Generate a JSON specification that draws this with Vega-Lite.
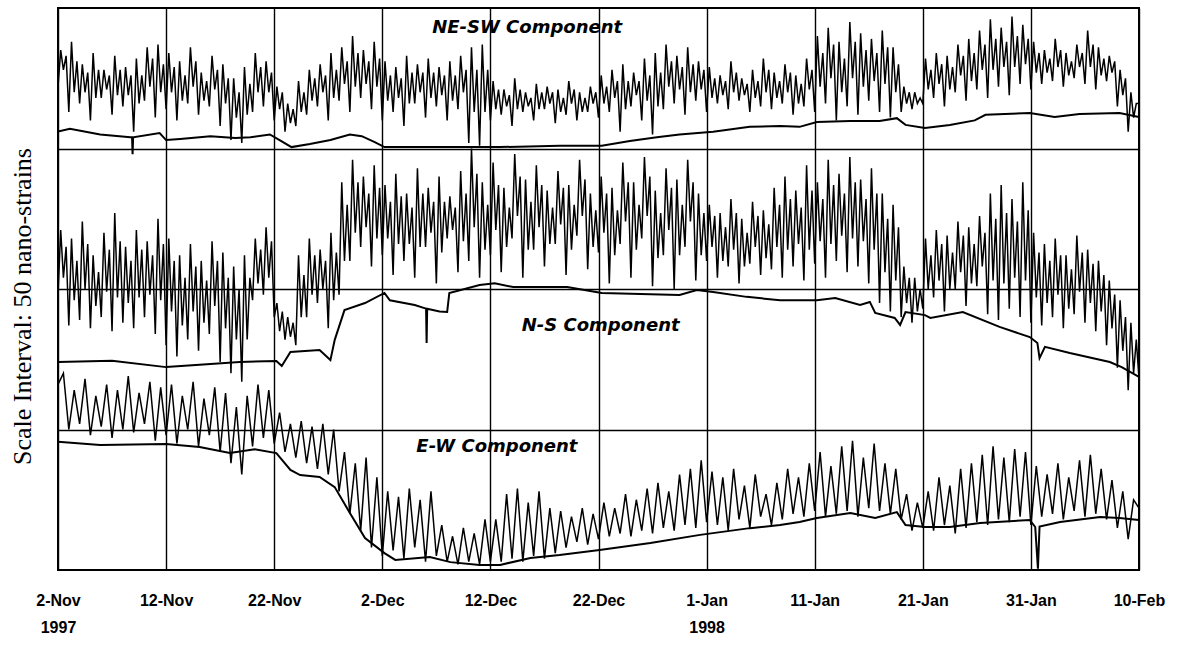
{
"$schema": "https://vega.github.io/schema/vega-lite/v6.json",
"width": 1081, "height": 562,
"autosize": {"type": "none"},
"padding": {"left": 58, "top": 8, "right": 39, "bottom": 75},
"background": "white",
"config": {"view": {"stroke": "#000", "strokeWidth": 2}},
"datasets": {
"q": [
{"d":0,"a":172,"b":98},{"d":0.25,"a":185,"b":121},{"d":0.5,"a":178,"b":104},{"d":0.75,"a":183,"b":115},
{"d":1,"a":163,"b":87},{"d":1.25,"a":188,"b":118},{"d":1.5,"a":170,"b":96},{"d":1.75,"a":181,"b":110},
{"d":2,"a":166,"b":89},{"d":2.25,"a":180,"b":124},{"d":2.5,"a":170,"b":100},{"d":2.75,"a":177,"b":116},
{"d":3,"a":160,"b":86},{"d":3.25,"a":184,"b":112},{"d":3.5,"a":168,"b":94},{"d":3.75,"a":178,"b":106},
{"d":4,"a":168,"b":90},{"d":4.25,"a":178,"b":120},{"d":4.5,"a":171,"b":99},{"d":4.75,"a":176,"b":114},
{"d":5,"a":162,"b":85},{"d":5.25,"a":183,"b":127},{"d":5.5,"a":169,"b":97},{"d":5.75,"a":178,"b":117},
{"d":6,"a":165,"b":88},{"d":6.25,"a":179,"b":115},{"d":6.5,"a":169,"b":95},{"d":6.75,"a":176,"b":110},
{"d":7,"a":156,"b":86},{"d":7.25,"a":182,"b":121},{"d":7.5,"a":166,"b":97},{"d":7.75,"a":176,"b":114},
{"d":8,"a":167,"b":90},{"d":8.25,"a":186,"b":117},{"d":8.5,"a":172,"b":98},{"d":8.75,"a":182,"b":112},
{"d":9,"a":161,"b":84},{"d":9.25,"a":187,"b":125},{"d":9.5,"a":170,"b":96},{"d":9.75,"a":180,"b":116},
{"d":10,"a":164,"b":80},{"d":10.25,"a":184,"b":118},{"d":10.5,"a":170,"b":92},{"d":10.75,"a":179,"b":110},
{"d":11,"a":160,"b":76},{"d":11.25,"a":181,"b":112},{"d":11.5,"a":167,"b":87},{"d":11.75,"a":176,"b":104},
{"d":12,"a":166,"b":82},{"d":12.25,"a":186,"b":116},{"d":12.5,"a":172,"b":92},{"d":12.75,"a":181,"b":108},
{"d":13,"a":162,"b":78},{"d":13.25,"a":177,"b":110},{"d":13.5,"a":167,"b":88},{"d":13.75,"a":174,"b":103},
{"d":14,"a":165,"b":84},{"d":14.25,"a":183,"b":117},{"d":14.5,"a":171,"b":94},{"d":14.75,"a":178,"b":110},
{"d":15,"a":158,"b":74},{"d":15.25,"a":180,"b":113},{"d":15.5,"a":166,"b":86},{"d":15.75,"a":175,"b":104},
{"d":16,"a":153,"b":70},{"d":16.25,"a":175,"b":108},{"d":16.5,"a":161,"b":82},{"d":16.75,"a":170,"b":100},
{"d":17,"a":152,"b":67},{"d":17.25,"a":179,"b":112},{"d":17.5,"a":162,"b":82},{"d":17.75,"a":173,"b":104},
{"d":18,"a":163,"b":96},{"d":18.25,"a":184,"b":118},{"d":18.5,"a":170,"b":102},{"d":18.75,"a":179,"b":114},
{"d":19,"a":165,"b":98},{"d":19.25,"a":181,"b":122},{"d":19.5,"a":170,"b":104},{"d":19.75,"a":177,"b":117},
{"d":20,"a":160,"b":90},{"d":20.25,"a":172,"b":95},{"d":20.5,"a":164,"b":85},{"d":20.75,"a":170,"b":92},
{"d":21,"a":156,"b":82},{"d":21.25,"a":166,"b":90},{"d":21.5,"a":159,"b":83},{"d":21.75,"a":164,"b":88},
{"d":22,"a":158,"b":80},{"d":22.25,"a":174,"b":112},{"d":22.5,"a":163,"b":90},{"d":22.75,"a":170,"b":105},
{"d":23,"a":162,"b":90},{"d":23.25,"a":178,"b":118},{"d":23.5,"a":167,"b":98},{"d":23.75,"a":175,"b":112},
{"d":24,"a":165,"b":95},{"d":24.25,"a":180,"b":114},{"d":24.5,"a":170,"b":100},{"d":24.75,"a":176,"b":110},
{"d":25,"a":160,"b":86},{"d":25.25,"a":184,"b":120},{"d":25.5,"a":168,"b":96},{"d":25.75,"a":178,"b":113},
{"d":26,"a":167,"b":98},{"d":26.25,"a":186,"b":138},{"d":26.5,"a":173,"b":110},{"d":26.75,"a":181,"b":130},
{"d":27,"a":163,"b":110},{"d":27.25,"a":190,"b":146},{"d":27.5,"a":172,"b":120},{"d":27.75,"a":184,"b":138},
{"d":28,"a":168,"b":115},{"d":28.25,"a":185,"b":140},{"d":28.5,"a":173,"b":122},{"d":28.75,"a":181,"b":134},
{"d":29,"a":164,"b":108},{"d":29.25,"a":188,"b":144},{"d":29.5,"a":172,"b":118},{"d":29.75,"a":182,"b":136},
{"d":30,"a":160,"b":112},{"d":30.25,"a":181,"b":137},{"d":30.5,"a":167,"b":118},{"d":30.75,"a":176,"b":131},
{"d":31,"a":163,"b":105},{"d":31.25,"a":179,"b":141},{"d":31.5,"a":168,"b":116},{"d":31.75,"a":175,"b":133},
{"d":32,"a":158,"b":110},{"d":32.25,"a":183,"b":134},{"d":32.5,"a":166,"b":116},{"d":32.75,"a":177,"b":129},
{"d":33,"a":166,"b":104},{"d":33.25,"a":180,"b":143},{"d":33.5,"a":170,"b":115},{"d":33.75,"a":177,"b":134},
{"d":34,"a":161,"b":115},{"d":34.25,"a":182,"b":136},{"d":34.5,"a":168,"b":120},{"d":34.75,"a":177,"b":131},
{"d":35,"a":165,"b":102},{"d":35.25,"a":179,"b":140},{"d":35.5,"a":169,"b":113},{"d":35.75,"a":176,"b":131},
{"d":36,"a":160,"b":118},{"d":36.25,"a":181,"b":133},{"d":36.5,"a":167,"b":121},{"d":36.75,"a":176,"b":129},
{"d":37,"a":164,"b":106},{"d":37.25,"a":183,"b":142},{"d":37.5,"a":170,"b":117},{"d":37.75,"a":178,"b":134},
{"d":38,"a":152,"b":110},{"d":38.25,"a":186,"b":150},{"d":38.5,"a":163,"b":122},{"d":38.75,"a":178,"b":141},
{"d":39,"a":151,"b":104},{"d":39.25,"a":187,"b":138},{"d":39.5,"a":163,"b":114},{"d":39.75,"a":178,"b":130},
{"d":40,"a":160,"b":112},{"d":40.25,"a":174,"b":145},{"d":40.5,"a":164,"b":121},{"d":40.75,"a":171,"b":137},
{"d":41,"a":162,"b":106},{"d":41.25,"a":171,"b":136},{"d":41.5,"a":165,"b":115},{"d":41.75,"a":169,"b":129},
{"d":42,"a":158,"b":118},{"d":42.25,"a":175,"b":148},{"d":42.5,"a":164,"b":126},{"d":42.75,"a":171,"b":140},
{"d":43,"a":163,"b":104},{"d":43.25,"a":170,"b":139},{"d":43.5,"a":165,"b":114},{"d":43.75,"a":168,"b":131},
{"d":44,"a":160,"b":114},{"d":44.25,"a":173,"b":144},{"d":44.5,"a":164,"b":122},{"d":44.75,"a":170,"b":137},
{"d":45,"a":164,"b":108},{"d":45.25,"a":172,"b":135},{"d":45.5,"a":166,"b":116},{"d":45.75,"a":170,"b":129},
{"d":46,"a":159,"b":116},{"d":46.25,"a":171,"b":142},{"d":46.5,"a":163,"b":123},{"d":46.75,"a":168,"b":136},
{"d":47,"a":162,"b":105},{"d":47.25,"a":174,"b":137},{"d":47.5,"a":166,"b":114},{"d":47.75,"a":171,"b":130},
{"d":48,"a":160,"b":119},{"d":48.25,"a":170,"b":146},{"d":48.5,"a":163,"b":126},{"d":48.75,"a":168,"b":139},
{"d":49,"a":163,"b":107},{"d":49.25,"a":172,"b":134},{"d":49.5,"a":166,"b":115},{"d":49.75,"a":170,"b":128},
{"d":50,"a":161,"b":113},{"d":50.25,"a":176,"b":140},{"d":50.5,"a":166,"b":120},{"d":50.75,"a":172,"b":134},
{"d":51,"a":163,"b":102},{"d":51.25,"a":178,"b":136},{"d":51.5,"a":168,"b":112},{"d":51.75,"a":174,"b":128},
{"d":52,"a":156,"b":116},{"d":52.25,"a":180,"b":145},{"d":52.5,"a":164,"b":124},{"d":52.75,"a":174,"b":138},
{"d":53,"a":165,"b":104},{"d":53.25,"a":177,"b":138},{"d":53.5,"a":169,"b":114},{"d":53.75,"a":174,"b":130},
{"d":54,"a":160,"b":118},{"d":54.25,"a":182,"b":147},{"d":54.5,"a":167,"b":126},{"d":54.75,"a":176,"b":140},
{"d":55,"a":155,"b":101},{"d":55.25,"a":184,"b":135},{"d":55.5,"a":165,"b":111},{"d":55.75,"a":177,"b":127},
{"d":56,"a":164,"b":112},{"d":56.25,"a":187,"b":143},{"d":56.5,"a":172,"b":121},{"d":56.75,"a":181,"b":136},
{"d":57,"a":166,"b":100},{"d":57.25,"a":183,"b":139},{"d":57.5,"a":171,"b":112},{"d":57.75,"a":179,"b":130},
{"d":58,"a":162,"b":115},{"d":58.25,"a":186,"b":146},{"d":58.5,"a":170,"b":124},{"d":58.75,"a":180,"b":138},
{"d":59,"a":167,"b":103},{"d":59.25,"a":181,"b":134},{"d":59.5,"a":171,"b":112},{"d":59.75,"a":178,"b":127},
{"d":60,"a":163,"b":110},{"d":60.25,"a":179,"b":130},{"d":60.5,"a":168,"b":115},{"d":60.75,"a":175,"b":126},
{"d":61,"a":166,"b":104},{"d":61.25,"a":176,"b":127},{"d":61.5,"a":169,"b":110},{"d":61.75,"a":174,"b":122},
{"d":62,"a":164,"b":108},{"d":62.25,"a":181,"b":132},{"d":62.5,"a":170,"b":114},{"d":62.75,"a":177,"b":127},
{"d":63,"a":167,"b":102},{"d":63.25,"a":175,"b":125},{"d":63.5,"a":169,"b":108},{"d":63.75,"a":173,"b":120},
{"d":64,"a":163,"b":109},{"d":64.25,"a":178,"b":131},{"d":64.5,"a":168,"b":115},{"d":64.75,"a":174,"b":126},
{"d":65,"a":165,"b":105},{"d":65.25,"a":182,"b":128},{"d":65.5,"a":170,"b":111},{"d":65.75,"a":178,"b":123},
{"d":66,"a":164,"b":107},{"d":66.25,"a":177,"b":136},{"d":66.5,"a":168,"b":115},{"d":66.75,"a":174,"b":130},
{"d":67,"a":166,"b":104},{"d":67.25,"a":180,"b":140},{"d":67.5,"a":170,"b":114},{"d":67.75,"a":177,"b":132},
{"d":68,"a":162,"b":108},{"d":68.25,"a":176,"b":135},{"d":68.5,"a":166,"b":116},{"d":68.75,"a":173,"b":129},
{"d":69,"a":165,"b":103},{"d":69.25,"a":182,"b":144},{"d":69.5,"a":171,"b":114},{"d":69.75,"a":178,"b":135},
{"d":70,"a":163,"b":109},{"d":70.25,"a":190,"b":138},{"d":70.5,"a":172,"b":117},{"d":70.75,"a":184,"b":132},
{"d":71,"a":166,"b":104},{"d":71.25,"a":193,"b":146},{"d":71.5,"a":175,"b":116},{"d":71.75,"a":187,"b":137},
{"d":72,"a":160,"b":110},{"d":72.25,"a":188,"b":141},{"d":72.5,"a":170,"b":119},{"d":72.75,"a":182,"b":134},
{"d":73,"a":165,"b":106},{"d":73.25,"a":195,"b":147},{"d":73.5,"a":175,"b":118},{"d":73.75,"a":188,"b":138},
{"d":74,"a":162,"b":108},{"d":74.25,"a":191,"b":139},{"d":74.5,"a":172,"b":117},{"d":74.75,"a":185,"b":132},
{"d":75,"a":167,"b":102},{"d":75.25,"a":189,"b":143},{"d":75.5,"a":174,"b":114},{"d":75.75,"a":184,"b":134},
{"d":76,"a":163,"b":95},{"d":76.25,"a":192,"b":134},{"d":76.5,"a":173,"b":106},{"d":76.75,"a":186,"b":125},
{"d":77,"a":161,"b":92},{"d":77.25,"a":186,"b":130},{"d":77.5,"a":170,"b":103},{"d":77.75,"a":180,"b":122},
{"d":78,"a":163,"b":90},{"d":78.25,"a":172,"b":108},{"d":78.5,"a":166,"b":95},{"d":78.75,"a":170,"b":104},
{"d":79,"a":164,"b":88},{"d":79.25,"a":170,"b":104},{"d":79.5,"a":166,"b":92},{"d":79.75,"a":168,"b":100},
{"d":80,"a":166,"b":93},{"d":80.25,"a":182,"b":118},{"d":80.5,"a":171,"b":100},{"d":80.75,"a":178,"b":112},
{"d":81,"a":168,"b":97},{"d":81.25,"a":184,"b":121},{"d":81.5,"a":173,"b":103},{"d":81.75,"a":180,"b":116},
{"d":82,"a":165,"b":92},{"d":82.25,"a":183,"b":119},{"d":82.5,"a":171,"b":100},{"d":82.75,"a":179,"b":113},
{"d":83,"a":170,"b":100},{"d":83.25,"a":187,"b":124},{"d":83.5,"a":176,"b":106},{"d":83.75,"a":183,"b":119},
{"d":84,"a":167,"b":94},{"d":84.25,"a":189,"b":122},{"d":84.5,"a":174,"b":102},{"d":84.75,"a":184,"b":116},
{"d":85,"a":171,"b":101},{"d":85.25,"a":192,"b":126},{"d":85.5,"a":178,"b":108},{"d":85.75,"a":187,"b":120},
{"d":86,"a":168,"b":91},{"d":86.25,"a":196,"b":134},{"d":86.5,"a":178,"b":103},{"d":86.75,"a":189,"b":125},
{"d":87,"a":172,"b":89},{"d":87.25,"a":193,"b":137},{"d":87.5,"a":179,"b":102},{"d":87.75,"a":188,"b":127},
{"d":88,"a":169,"b":93},{"d":88.25,"a":197,"b":132},{"d":88.5,"a":179,"b":104},{"d":88.75,"a":190,"b":124},
{"d":89,"a":173,"b":90},{"d":89.25,"a":194,"b":138},{"d":89.5,"a":180,"b":103},{"d":89.75,"a":189,"b":128},
{"d":90,"a":171,"b":88},{"d":90.25,"a":188,"b":120},{"d":90.5,"a":177,"b":97},{"d":90.75,"a":184,"b":113},
{"d":91,"a":173,"b":87},{"d":91.25,"a":185,"b":116},{"d":91.5,"a":177,"b":95},{"d":91.75,"a":182,"b":110},
{"d":92,"a":174,"b":90},{"d":92.25,"a":189,"b":118},{"d":92.5,"a":179,"b":98},{"d":92.75,"a":185,"b":112},
{"d":93,"a":172,"b":86},{"d":93.25,"a":184,"b":112},{"d":93.5,"a":176,"b":93},{"d":93.75,"a":181,"b":107},
{"d":94,"a":175,"b":91},{"d":94.25,"a":187,"b":119},{"d":94.5,"a":179,"b":99},{"d":94.75,"a":184,"b":113},
{"d":95,"a":173,"b":88},{"d":95.25,"a":192,"b":114},{"d":95.5,"a":179,"b":95},{"d":95.75,"a":187,"b":109},
{"d":96,"a":171,"b":85},{"d":96.25,"a":186,"b":110},{"d":96.5,"a":176,"b":92},{"d":96.75,"a":182,"b":105},
{"d":97,"a":174,"b":80},{"d":97.25,"a":183,"b":103},{"d":97.5,"a":177,"b":86},{"d":97.75,"a":181,"b":98},
{"d":98,"a":165,"b":72},{"d":98.25,"a":178,"b":96},{"d":98.5,"a":169,"b":78},{"d":98.75,"a":175,"b":90},
{"d":99,"a":156,"b":64},{"d":99.25,"a":170,"b":88},{"d":99.5,"a":161,"b":70},{"d":99.75,"a":166,"b":82},
{"d":100,"a":166,"b":68}
],
"h": [
{"d":0,"c":66},{"d":0.5,"c":70},{"d":1,"c":50},{"d":1.5,"c":64},{"d":2,"c":52},{"d":2.5,"c":68},{"d":3,"c":48},{"d":3.5,"c":62},{"d":4,"c":51},{"d":4.5,"c":66},
{"d":5,"c":47},{"d":5.5,"c":64},{"d":6,"c":50},{"d":6.5,"c":69},{"d":7,"c":49},{"d":7.5,"c":63},{"d":8,"c":52},{"d":8.5,"c":67},{"d":9,"c":46},{"d":9.5,"c":65},
{"d":10,"c":48},{"d":10.5,"c":66},{"d":11,"c":45},{"d":11.5,"c":62},{"d":12,"c":50},{"d":12.5,"c":67},{"d":13,"c":44},{"d":13.5,"c":61},{"d":14,"c":48},{"d":14.5,"c":65},
{"d":15,"c":42},{"d":15.5,"c":63},{"d":16,"c":38},{"d":16.5,"c":58},{"d":17,"c":34},{"d":17.5,"c":62},{"d":18,"c":44},{"d":18.5,"c":66},{"d":19,"c":47},{"d":19.5,"c":64},
{"d":20,"c":45},{"d":20.5,"c":56},{"d":21,"c":42},{"d":21.5,"c":52},{"d":22,"c":40},{"d":22.5,"c":53},{"d":23,"c":38},{"d":23.5,"c":51},{"d":24,"c":36},{"d":24.5,"c":52},
{"d":25,"c":34},{"d":25.5,"c":50},{"d":26,"c":28},{"d":26.5,"c":42},{"d":27,"c":20},{"d":27.5,"c":38},{"d":28,"c":14},{"d":28.5,"c":40},{"d":29,"c":8},{"d":29.5,"c":33},
{"d":30,"c":5},{"d":30.5,"c":28},{"d":31,"c":7},{"d":31.5,"c":26},{"d":32,"c":4},{"d":32.5,"c":29},{"d":33,"c":8},{"d":33.5,"c":25},{"d":34,"c":3},{"d":34.5,"c":28},
{"d":35,"c":5},{"d":35.5,"c":16},{"d":36,"c":3},{"d":36.5,"c":12},{"d":37,"c":2},{"d":37.5,"c":15},{"d":38,"c":3},{"d":38.5,"c":13},{"d":39,"c":2},{"d":39.5,"c":18},
{"d":40,"c":3},{"d":40.5,"c":18},{"d":41,"c":3},{"d":41.5,"c":27},{"d":42,"c":4},{"d":42.5,"c":29},{"d":43,"c":3},{"d":43.5,"c":24},{"d":44,"c":5},{"d":44.5,"c":28},
{"d":45,"c":4},{"d":45.5,"c":22},{"d":46,"c":6},{"d":46.5,"c":21},{"d":47,"c":8},{"d":47.5,"c":19},{"d":48,"c":10},{"d":48.5,"c":22},{"d":49,"c":9},{"d":49.5,"c":20},
{"d":50,"c":11},{"d":50.5,"c":24},{"d":51,"c":12},{"d":51.5,"c":22},{"d":52,"c":13},{"d":52.5,"c":27},{"d":53,"c":12},{"d":53.5,"c":25},{"d":54,"c":14},{"d":54.5,"c":29},
{"d":55,"c":13},{"d":55.5,"c":31},{"d":56,"c":15},{"d":56.5,"c":28},{"d":57,"c":14},{"d":57.5,"c":34},{"d":58,"c":16},{"d":58.5,"c":36},{"d":59,"c":15},{"d":59.5,"c":39},
{"d":60,"c":17},{"d":60.5,"c":35},{"d":61,"c":16},{"d":61.5,"c":33},{"d":62,"c":14},{"d":62.5,"c":36},{"d":63,"c":18},{"d":63.5,"c":30},{"d":64,"c":15},{"d":64.5,"c":34},
{"d":65,"c":19},{"d":65.5,"c":27},{"d":66,"c":16},{"d":66.5,"c":31},{"d":67,"c":18},{"d":67.5,"c":36},{"d":68,"c":20},{"d":68.5,"c":33},{"d":69,"c":19},{"d":69.5,"c":38},
{"d":70,"c":21},{"d":70.5,"c":42},{"d":71,"c":19},{"d":71.5,"c":37},{"d":72,"c":20},{"d":72.5,"c":44},{"d":73,"c":21},{"d":73.5,"c":46},{"d":74,"c":19},{"d":74.5,"c":40},
{"d":75,"c":22},{"d":75.5,"c":45},{"d":76,"c":21},{"d":76.5,"c":38},{"d":77,"c":20},{"d":77.5,"c":36},{"d":78,"c":18},{"d":78.5,"c":27},{"d":79,"c":14},{"d":79.5,"c":24},
{"d":80,"c":15},{"d":80.5,"c":28},{"d":81,"c":14},{"d":81.5,"c":33},{"d":82,"c":16},{"d":82.5,"c":30},{"d":83,"c":13},{"d":83.5,"c":36},{"d":84,"c":15},{"d":84.5,"c":38},
{"d":85,"c":17},{"d":85.5,"c":41},{"d":86,"c":16},{"d":86.5,"c":44},{"d":87,"c":18},{"d":87.5,"c":40},{"d":88,"c":17},{"d":88.5,"c":43},{"d":89,"c":19},{"d":89.5,"c":42},
{"d":90,"c":16},{"d":90.5,"c":37},{"d":91,"c":19},{"d":91.5,"c":34},{"d":92,"c":20},{"d":92.5,"c":38},{"d":93,"c":18},{"d":93.5,"c":33},{"d":94,"c":21},{"d":94.5,"c":39},
{"d":95,"c":19},{"d":95.5,"c":41},{"d":96,"c":20},{"d":96.5,"c":36},{"d":97,"c":18},{"d":97.5,"c":32},{"d":98,"c":15},{"d":98.5,"c":28},{"d":99,"c":11},{"d":99.5,"c":25},
{"d":100,"c":22}
],
"base": [
{"s":"n","d":0,"v":156},{"s":"n","d":1.1,"v":157},{"s":"n","d":3.9,"v":155},{"s":"n","d":6.7,"v":154},{"s":"n","d":6.85,"v":154},{"s":"n","d":6.9,"v":148},{"s":"n","d":6.95,"v":154},{"s":"n","d":9.4,"v":155.5},{"s":"n","d":10,"v":153},{"s":"n","d":11.3,"v":153.4},{"s":"n","d":14.1,"v":154.4},{"s":"n","d":16.4,"v":153.7},{"s":"n","d":17.8,"v":154},{"s":"n","d":19.6,"v":155},{"s":"n","d":20.5,"v":153},{"s":"n","d":21.6,"v":150.5},{"s":"n","d":23.3,"v":151.6},{"s":"n","d":25.2,"v":153},{"s":"n","d":27,"v":155},{"s":"n","d":28.1,"v":154.4},{"s":"n","d":29.3,"v":152.3},{"s":"n","d":30.2,"v":150.5},{"s":"n","d":33.5,"v":150.5},{"s":"n","d":37.2,"v":150.5},{"s":"n","d":40.9,"v":150.5},{"s":"n","d":46.4,"v":151},{"s":"n","d":50.3,"v":151},{"s":"n","d":52.9,"v":152.7},{"s":"n","d":55.4,"v":154},{"s":"n","d":57.5,"v":155},{"s":"n","d":60.6,"v":156},{"s":"n","d":64,"v":157.7},{"s":"n","d":66.8,"v":158},{"s":"n","d":68.6,"v":157.7},{"s":"n","d":70.2,"v":159.4},{"s":"n","d":73.3,"v":159.8},{"s":"n","d":76,"v":159.8},{"s":"n","d":77.6,"v":160.8},{"s":"n","d":78.4,"v":158.4},{"s":"n","d":80.2,"v":157.3},{"s":"n","d":82.5,"v":158.4},{"s":"n","d":84.8,"v":160},{"s":"n","d":85.8,"v":162},{"s":"n","d":89.9,"v":162.6},{"s":"n","d":92.2,"v":161.2},{"s":"n","d":94.5,"v":162.3},{"s":"n","d":98.2,"v":162.6},{"s":"n","d":100,"v":161.2},
{"s":"m","d":0,"v":74},{"s":"m","d":5,"v":74.5},{"s":"m","d":10,"v":72.2},{"s":"m","d":13.1,"v":73},{"s":"m","d":16.8,"v":74},{"s":"m","d":20.2,"v":74.4},{"s":"m","d":20.7,"v":72.6},{"s":"m","d":21.5,"v":77.6},{"s":"m","d":24.2,"v":78.3},{"s":"m","d":25.2,"v":74.7},{"s":"m","d":25.6,"v":81.9},{"s":"m","d":26.5,"v":92.5},{"s":"m","d":28.4,"v":95},{"s":"m","d":30.2,"v":98.6},{"s":"m","d":30.7,"v":96},{"s":"m","d":33,"v":94.3},{"s":"m","d":34.05,"v":93},{"s":"m","d":34.1,"v":80.8},{"s":"m","d":34.15,"v":93},{"s":"m","d":35.3,"v":92},{"s":"m","d":36,"v":91.8},{"s":"m","d":36.2,"v":98.6},{"s":"m","d":39,"v":101.4},{"s":"m","d":40.4,"v":102},{"s":"m","d":42.1,"v":100.7},{"s":"m","d":47.1,"v":100.7},{"s":"m","d":50.3,"v":98.6},{"s":"m","d":57.5,"v":97.9},{"s":"m","d":59.1,"v":99.6},{"s":"m","d":60.6,"v":98.9},{"s":"m","d":63.7,"v":97.2},{"s":"m","d":66.8,"v":96},{"s":"m","d":70.2,"v":96},{"s":"m","d":71.9,"v":96.8},{"s":"m","d":74.2,"v":94.3},{"s":"m","d":75.1,"v":95.4},{"s":"m","d":75.6,"v":91.5},{"s":"m","d":77.4,"v":89.7},{"s":"m","d":77.9,"v":87.2},{"s":"m","d":78.4,"v":91.8},{"s":"m","d":80.2,"v":90.7},{"s":"m","d":80.7,"v":89.7},{"s":"m","d":83.7,"v":91.8},{"s":"m","d":87.1,"v":86.5},{"s":"m","d":89.9,"v":82.9},{"s":"m","d":90.6,"v":80.8},{"s":"m","d":90.8,"v":75.4},{"s":"m","d":91.3,"v":79.4},{"s":"m","d":93.6,"v":77.2},{"s":"m","d":97.3,"v":74},{"s":"m","d":98.4,"v":72.2},{"s":"m","d":100,"v":68.7},
{"s":"e","d":0,"v":45.6},{"s":"e","d":3.9,"v":44.5},{"s":"e","d":10,"v":44.8},{"s":"e","d":13.1,"v":43.8},{"s":"e","d":15.9,"v":41.6},{"s":"e","d":18.2,"v":43},{"s":"e","d":20.2,"v":41.6},{"s":"e","d":21.5,"v":35.6},{"s":"e","d":22.4,"v":33.8},{"s":"e","d":24.2,"v":33.1},{"s":"e","d":25.6,"v":29.5},{"s":"e","d":27,"v":20.3},{"s":"e","d":28.4,"v":11.4},{"s":"e","d":30.2,"v":6},{"s":"e","d":31.2,"v":3.6},{"s":"e","d":34.4,"v":4.6},{"s":"e","d":36.3,"v":2.8},{"s":"e","d":39,"v":1.8},{"s":"e","d":40.9,"v":1.8},{"s":"e","d":43.7,"v":4.3},{"s":"e","d":46.4,"v":5.3},{"s":"e","d":50.1,"v":7.1},{"s":"e","d":54.8,"v":9.6},{"s":"e","d":59.4,"v":12.5},{"s":"e","d":64,"v":14.9},{"s":"e","d":66.8,"v":16},{"s":"e","d":68.6,"v":17.1},{"s":"e","d":70.2,"v":18.5},{"s":"e","d":73.3,"v":20.3},{"s":"e","d":75.6,"v":18.5},{"s":"e","d":77.6,"v":20.6},{"s":"e","d":78.4,"v":16},{"s":"e","d":80.2,"v":15.3},{"s":"e","d":82.5,"v":15.3},{"s":"e","d":85.3,"v":16.7},{"s":"e","d":89.9,"v":17.8},{"s":"e","d":90.4,"v":15.3},{"s":"e","d":90.65,"v":0.5},{"s":"e","d":90.8,"v":15.5},{"s":"e","d":92.7,"v":17.1},{"s":"e","d":96.4,"v":18.9},{"s":"e","d":98.2,"v":18.5},{"s":"e","d":100,"v":17.8}
],
"labels": [
{"d":43.4,"v":193.0,"t":"NE-SW Component"},
{"d":50.2,"v":87.0,"t":"N-S  Component"},
{"d":40.6,"v":43.6,"t":"E-W Component"}
]
},
"encoding": {
"x": {"field": "d", "type": "quantitative", "scale": {"domain": [0, 100], "nice": false, "zero": false},
"axis": {"values": [0,10,20,30,40,50,60,70,80,90,100],
"labelExpr": "[['2-Nov','1997'],'12-Nov','22-Nov','2-Dec','12-Dec','22-Dec',['1-Jan','1998'],'11-Jan','21-Jan','31-Jan','10-Feb'][round(datum.value/10)]",
"title": null, "grid": true, "gridColor": "black", "gridWidth": 1.4, "gridOpacity": 1,
"ticks": false, "domain": false, "labelFont": "Liberation Sans", "labelFontSize": 16, "labelFontWeight": "bold",
"labelColor": "black", "labelPadding": 22, "labelLineHeight": 27, "labelOverlap": false, "labelFlush": false, "labelBound": false, "labelBaseline": "top"}},
"y": {"field": "v", "type": "quantitative", "scale": {"domain": [0, 200], "nice": false, "zero": false},
"axis": {"values": [50, 100, 150], "labels": false, "ticks": false, "domain": false, "grid": true,
"gridColor": "black", "gridWidth": 1.4, "gridOpacity": 1,
"title": "Scale Interval: 50 nano-strains", "titleFont": "Liberation Serif", "titleFontSize": 26,
"titleFontWeight": "normal", "titleColor": "black", "titleX": -36, "titleY": 298, "titleAngle": -90,
"titleAlign": "center", "titleBaseline": "middle"}}
},
"layer": [
{
"data": {"name": "q"},
"transform": [{"fold": ["a", "b"], "as": ["s", "v"]}],
"mark": {"type": "line", "color": "black", "strokeWidth": 1.5, "clip": true},
"encoding": {"detail": {"field": "s"}}
},
{
"data": {"name": "h"},
"transform": [{"fold": ["c"], "as": ["s", "v"]}],
"mark": {"type": "line", "color": "black", "strokeWidth": 1.5, "clip": true},
"encoding": {"detail": {"field": "s"}}
},
{
"data": {"name": "base"},
"mark": {"type": "line", "color": "black", "strokeWidth": 2, "clip": true},
"encoding": {"detail": {"field": "s"}}
},
{
"data": {"name": "labels"},
"mark": {"type": "text", "font": "DejaVu Sans", "fontSize": 18, "fontWeight": "bold", "fontStyle": "italic", "color": "black", "align": "center", "baseline": "middle"},
"encoding": {"text": {"field": "t"}}
}
]
}
